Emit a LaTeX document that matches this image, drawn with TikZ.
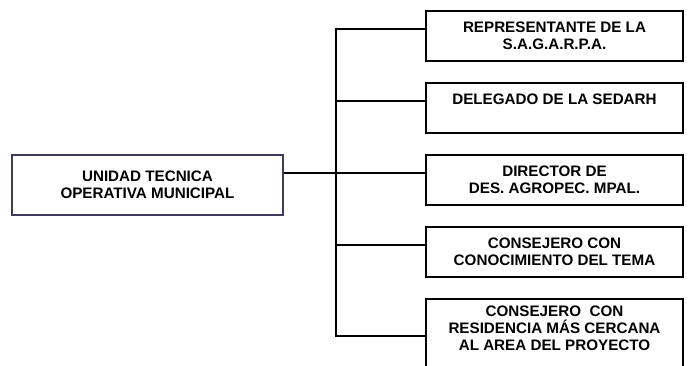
\documentclass[tikz,border=0pt]{standalone}
\usepackage{fontspec}
\setmainfont{Liberation Sans}
\usepackage{tikz}
\usetikzlibrary{positioning,calc}

\begin{document}
\begin{tikzpicture}[x=1pt,y=-1pt]
  \tikzstyle{unit} = [draw={rgb,255:red,62;green,60;blue,92},line width=1.4pt,minimum width=271pt,minimum height=60pt,inner sep=0pt,align=center,font=\fontsize{15.2}{17}\selectfont\bfseries]
  \tikzstyle{member} = [draw,line width=1.5pt,minimum width=257pt,minimum height=50pt,inner sep=0pt,align=center,font=\fontsize{15.2}{17}\selectfont\bfseries]
  \tikzstyle{link} = [line width=1.2pt]
  %
  % Page size, the last box is cut at the bottom.
  \useasboundingbox (0,0) rectangle (688,366);
  \clip (0,0) rectangle (688,366);

  % Unit on the left.
  \node[unit] (uto) at (147.5,185) {UNIDAD TECNICA\\OPERATIVA MUNICIPAL};

  % Members on the right.
  \node[member] (b1) at (554.5,36) {REPRESENTANTE DE LA\\S.A.G.A.R.P.A.};
  \node[member,below=20.5pt of b1] (b2) {DELEGADO DE LA SEDARH\\\mbox{}};
  \node[member,below=20.5pt of b2] (b3) {DIRECTOR DE\\DES. AGROPEC. MPAL.};
  \node[member,below=20.5pt of b3] (b4) {CONSEJERO CON\\CONOCIMIENTO DEL TEMA};
  \node[member,below=20.5pt of b4,minimum height=71pt] (b5) {CONSEJERO\ \ CON\\RESIDENCIA MÁS CERCANA\\AL AREA DEL PROYECTO\\[-4pt]};

  % Connectors.
  \coordinate (trunk) at (336,173);
  \draw[link] ([yshift=12pt]uto.east) -- ([yshift=7pt]b3.west);
  \draw[link] ([yshift=7pt]b1.west) -| (trunk) |- ([yshift=-1.5pt]b5.west);
  \foreach \b in {b2,b4}
    \draw[link] ([yshift=7pt]\b.west) -- ([yshift=7pt]\b.west -| trunk);
\end{tikzpicture}
\end{document}
